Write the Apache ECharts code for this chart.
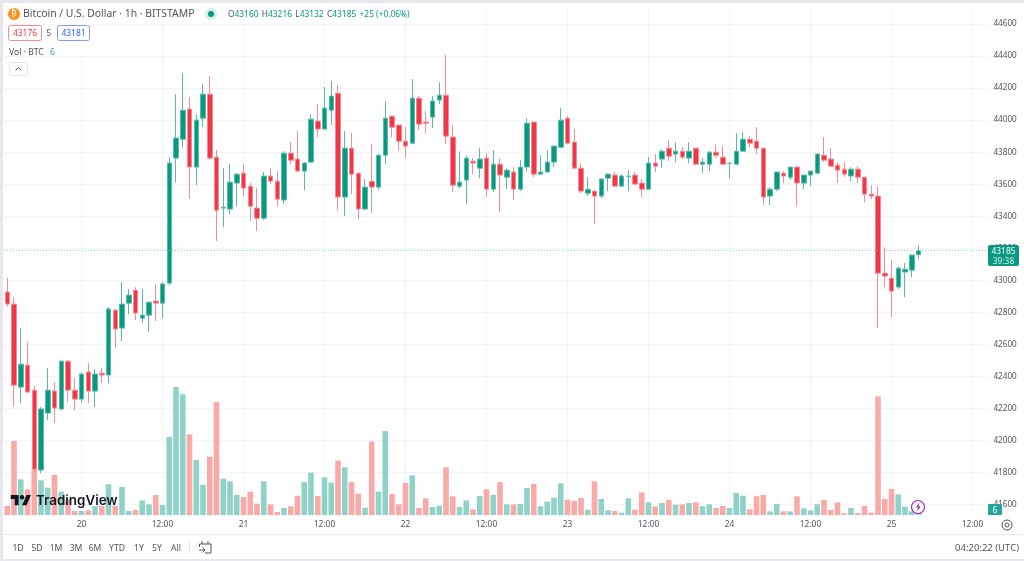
<!DOCTYPE html>
<html><head><meta charset="utf-8">
<style>html,body{margin:0;padding:0;background:#fff}#c{width:1024px;height:561px}</style>
<script src="https://cdn.jsdelivr.net/npm/echarts@6/dist/echarts.min.js"></script>
</head><body><div id="c"></div>
<script>
// Hourly bars, first bar 19th 13:00 (UTC)
const opens = [42927,42852,42334,42471,42315,41816,42172,42309,42197,42496,42315,
42259,42428,42309,42421,42409,42814,42702,42858,42939,42764,42783,42871,42858,42983,43763,43881,44069,43707,44012,44162,43769,43451,43445,43607,43669,43588,43451,43388,43651,43619,43501,43794,43757,43682,43738,43994,43944,44062,44168,
43520,43825,43669,43445,43619,43582,43781,44025,43969,43869,43856,44137,43988,44019,44125,44156,43894,43588,43626,43744,43700,43763,43569,43725,43644,43676,43569,43707,43988,43663,43676,43738,43831,44012,43863,43700,43544,43557,43526,43638,43657,43588,43648,43657,43607,43569,43732,43757,43825,
43788,43806,43763,43825,43725,43725,43800,43769,43729,43725,43806,43881,43869,43825,43526,43569,43669,43644,43707,43607,43657,43669,43781,43757,43719,43694,43651,43694,43644,43538,43526,43045,43014,42958,43052,43064,43160];
const closes = [42852,42346,42477,42303,41822,42197,42315,42203,42496,42315,42259,
42415,42309,42415,42409,42821,42696,42852,42908,42796,42783,42864,42858,42977,43732,43888,44062,43707,44000,44162,43763,43438,43457,43613,43663,43576,43463,43388,43651,43619,43507,43794,43750,43682,43732,44006,43944,44075,44150,43520,
43825,43663,43445,43582,43582,43781,44012,43956,43869,43838,44137,43975,43981,44119,44156,43900,43594,43613,43763,43732,43757,43569,43725,43657,43688,43569,43707,43981,43663,43676,43738,43838,44000,43856,43700,43557,43569,43526,43632,43663,43588,43651,43651,43601,43569,43732,43713,43806,43775,
43806,43769,43806,43725,43738,43800,43781,43725,43732,43806,43881,43856,43825,43520,43569,43676,43651,43707,43607,43657,43682,43788,43750,43713,43688,43663,43694,43644,43538,43526,43045,43027,42933,43076,43070,43158,43185];
const highs = [43014,42896,42702,42615,42340,42209,42452,42365,42502,42502,42390,
42428,42484,42446,42452,42833,42821,42989,42945,42958,42945,42864,42977,42989,43769,44162,44293,44144,44037,44225,44275,43813,43700,43725,43669,43725,43607,43576,43676,43700,43682,43806,43863,43931,43738,44037,44100,44206,44243,44218,
43931,43919,43669,43632,43850,43788,44119,44025,43969,43956,44256,44150,44056,44150,44237,44406,43969,43806,43781,43763,43825,43794,43813,43763,43700,43707,43750,44012,43988,43781,43813,43838,44075,44025,43944,43732,43644,43557,43638,43669,43676,43663,43688,43676,43632,43769,43788,43819,43875,
43863,43831,43863,43825,43763,43806,43850,43838,43732,43919,43925,43900,43956,43825,43582,43676,43682,43707,43707,43657,43682,43794,43894,43825,43738,43738,43707,43713,43644,43594,43588,43207,43126,43089,43108,43158,43216];
const lows = [42839,42215,42234,42296,41803,41797,42128,42109,42190,42240,42190,
42234,42234,42209,42359,42359,42577,42621,42789,42752,42733,42677,42746,42764,42970,43613,43831,43507,43594,43956,43750,43245,43332,43413,43463,43526,43370,43307,43376,43601,43463,43476,43725,43676,43563,43732,43894,43938,43969,43438,
43401,43538,43382,43438,43420,43563,43725,43894,43813,43763,43856,43938,43919,43950,44100,43850,43551,43576,43476,43663,43638,43520,43551,43426,43569,43501,43557,43682,43644,43657,43676,43707,43825,43850,43700,43544,43526,43351,43513,43557,43582,43588,43557,43594,43520,43569,43676,43700,43744,
43738,43757,43732,43719,43669,43682,43763,43725,43638,43725,43806,43831,43788,43470,43470,43557,43607,43626,43463,43569,43588,43663,43738,43713,43607,43644,43619,43607,43488,43507,42702,42958,42771,42945,42896,43020,43132];
const volumes = [27,222,107,77,137,104,82,120,70,47,12,
12,14,27,27,92,27,84,12,15,44,32,60,30,234,384,362,242,165,90,175,339,109,101,60,54,70,34,101,32,9,21,26,58,99,127,57,113,97,163,
143,99,64,22,220,70,252,63,32,96,119,21,50,24,28,143,56,24,44,17,57,77,60,99,32,32,33,81,93,26,40,52,95,46,42,51,16,101,48,14,12,7,50,16,68,38,26,36,45,
31,32,36,38,26,32,21,27,21,66,58,17,56,60,11,33,11,11,56,20,14,32,45,15,38,5,21,6,27,7,356,48,78,62,25,11,6];
const priceTicks = {min:41600,max:44600,step:200};
const volumeAxisMax = 1521;
const tickHours = [0,12,24,36,48,60,72,84,96,108,120,132];
const tickLabels = ['20','12:00','21','12:00','22','12:00','23','12:00','24','12:00','25','12:00'];
const lastPrice = 43185;
const countdown = '39:38';
const lastVolume = 6;
const rangeButtons = ['1D','5D','1M','3M','6M','YTD','1Y','5Y','All'];
const rangeButtonX = [18,37,56,76,95,117,139,157,176];
const clockText = '04:20:22 (UTC)';

const UP='#089981',DOWN='#F23645',FONT='"Noto Sans",sans-serif';
const firstHour=-11,slots=146;
const categories=[];for(let i=0;i<slots;i++)categories.push(String(firstHour+i));
const tickMap={};tickHours.forEach((h,i)=>tickMap[String(h)]=tickLabels[i]);
const isTick=(i,v)=>tickMap[v]!==undefined;
const candleData=opens.map((o,i)=>[o,closes[i],lows[i],highs[i]]);
const volumeData=volumes.map((v,i)=>({value:v,itemStyle:{color:closes[i]>=opens[i]?'#8fd2c7':'#f8a9a8'}}));
const gridX={left:3.875,width:985.5};

function t(text,x,y,o){o=o||{};return {type:'text',z:o.z||50,x,y:y+1,style:{text,fill:o.fill||'#50535e',font:(o.weight||'400')+' '+(o.size||9)+'px '+(o.family||FONT),textAlign:o.align||'left',textVerticalAlign:'middle'}}}
function r(x,y,w,h,fill,z,stroke,rad){return {type:'rect',z:z||40,shape:{x,y,width:w,height:h,r:rad||0},style:{fill:fill,stroke:stroke||null,lineWidth:1}}}
function pl(points,stroke,lw){return {type:'polyline',z:60,shape:{points},style:{stroke:stroke,fill:null,lineWidth:lw||1}}}
function pg(points,fill){return {type:'polygon',z:60,shape:{points},style:{fill:fill}}}
function c(cx,cy,rr,fill,stroke,lw){return {type:'circle',z:60,shape:{cx,cy,r:rr},style:{fill:fill,stroke:stroke||null,lineWidth:lw||1}}}

const INK='#131722';
const graphics=[
 r(0,0,1024,3,'#e6e8ee',70), r(0,0,3,561,'#e6e8ee',70), r(0,559,1024,2,'#e6e8ee',70),
 r(3,3,385,20,'#fff',30), r(60,23,35,32,'#fff',30),
 r(3,534,1021,1,'#e6e8ee',30),
 c(14,14,6,'#f7931a'), t('₿',14,13.3,{fill:'#fff',size:8,align:'center',family:'"DejaVu Sans"',z:61}),
 t('Bitcoin / U.S. Dollar · 1h · BITSTAMP',23,13.2,{size:10.4,fill:'#50535e'}),
 c(211,14,6,'#d5efe9'), c(211,14,3,UP),
 {type:'text',z:50,x:228,y:14.5,style:{rich:{l:{fill:'#50535e',font:'400 8.4px '+FONT},v:{fill:UP,font:'400 8.4px '+FONT}},text:'{l|O}{v|43160} {l|H}{v|43216} {l|L}{v|43132} {l|C}{v|43185} {v|+25 (+0.06%)}',textVerticalAlign:'middle'}},
 r(8.5,25.5,33,15,'#fff',50,'#f28b93',2), t('43176',25,32.5,{fill:'#f23645',size:8.4,align:'center',z:51}),
 t('5',49,32.5,{size:8.4,align:'center'}),
 r(57.5,25.5,32,15,'#fff',50,'#7f9cf5',2), t('43181',73.5,32.5,{fill:'#2962ff',size:8.4,align:'center',z:51}),
 t('Vol · BTC',9,51.5,{size:8.6}), t(String(lastVolume),50,51.5,{size:8.6,fill:'#26a69a'}),
 r(9.5,62.5,18,13,'#fff',50,'#e0e3eb',2), pl([[15.5,70.5],[18.5,67.5],[21.5,70.5]],'#50535e'),
 // last price tag
 r(988,245,31,21,UP,50,null,2), t(String(lastPrice),1003.5,250.5,{fill:'#fff',size:8.4,align:'center',z:51}), t(countdown,1003.5,260.5,{fill:'#d6efe9',size:8.4,align:'center',z:51}),
 // last volume tag
 r(988,504,14,11,'#26a69a',50,null,1), t(String(lastVolume),995,509.2,{fill:'#fff',size:8.4,align:'center',z:51}),
 // TradingView mark
 pg([[18.6,495],[10.7,495],[10.7,499],[14.7,499],[14.7,505.2],[18.6,505.2]],INK),
 pg([[26.5,495],[31,495],[26.5,505.2],[22,505.2]],INK), c(22,497.3,2.3,INK),
 t('TradingView',36,500,{size:13.4,weight:'600',fill:INK,family:'Inter,"Noto Sans",sans-serif'}),
 // bolt badge
 c(918,507,6.5,'#fff','#9c27b0',1.2), pg([[919.5,502.5],[915.9,507.5],[918.2,507.5],[917.2,511.5],[920.8,506.5],[918.5,506.5]],'#9c27b0'),
 // settings
 c(1007,525,5,'#fff','#50535e',1), c(1007,525,2,'#fff','#50535e',1),
 // bottom bar
 r(189,541,1,12,'#e0e3eb',30),
 pl([[199.5,547],[199.5,544],[211,544],[211,553],[205,553]],'#50535e'),
 pl([[202,541],[202,544]],'#50535e'), pl([[208,541],[208,544]],'#50535e'),
 pl([[199,550],[204.5,550]],'#50535e'), pl([[202.5,547.5],[205,550],[202.5,552.5]],'#50535e'),
 t(clockText,1019,547.5,{size:9.5,align:'right'})
];
rangeButtons.forEach((b,i)=>graphics.push(t(b,rangeButtonX[i],547.5,{size:8.6,align:'center'})));

const option={
 animation:false,backgroundColor:'#fff',
 grid:[
  {left:gridX.left,width:gridX.width,top:24,height:480.7},
  {left:gridX.left,width:gridX.width,top:8,height:507}
 ],
 xAxis:[
  {type:'category',gridIndex:0,data:categories,boundaryGap:true,axisLine:{show:false},axisTick:{show:false},axisLabel:{show:false},splitLine:{show:false}},
  {type:'category',gridIndex:1,data:categories,boundaryGap:true,axisLine:{show:false},
   axisTick:{show:false,alignWithLabel:true,interval:isTick},
   axisLabel:{interval:isTick,formatter:v=>tickMap[v]||'',color:'#50535e',fontSize:8.4,fontFamily:FONT,margin:6},
   splitLine:{show:true,alignWithLabel:true,interval:isTick,lineStyle:{color:'#f3f4f7',width:1}}}
 ],
 yAxis:[
  {type:'value',gridIndex:0,position:'right',min:priceTicks.min,max:priceTicks.max,interval:priceTicks.step,
   axisLine:{show:false},axisTick:{show:false},
   axisLabel:{color:'#50535e',fontSize:8.2,fontFamily:FONT,margin:4,align:'left',padding:[2,0,0,0],formatter:v=>String(v)},
   splitLine:{show:true,lineStyle:{color:'#f3f4f7',width:1}}},
  {type:'value',gridIndex:1,min:0,max:volumeAxisMax,show:false,splitLine:{show:false}}
 ],
 series:[
  {type:'bar',name:'Vol',xAxisIndex:1,yAxisIndex:1,data:volumeData,barWidth:5.6,z:1},
  {type:'candlestick',name:'BTCUSD',xAxisIndex:0,yAxisIndex:0,data:candleData,barWidth:5,z:3,
   itemStyle:{color:UP,color0:DOWN,borderColor:'#58bba9',borderColor0:'#f58c95',borderWidth:1},
   markLine:{silent:true,symbol:'none',label:{show:false},lineStyle:{color:'#7ccabb',type:[1,2],width:1},data:[{yAxis:lastPrice}]}}
 ],
 graphic:graphics
};
const chart=echarts.init(document.getElementById('c'),null,{renderer:'canvas'});
chart.setOption(option);
</script></body></html>
